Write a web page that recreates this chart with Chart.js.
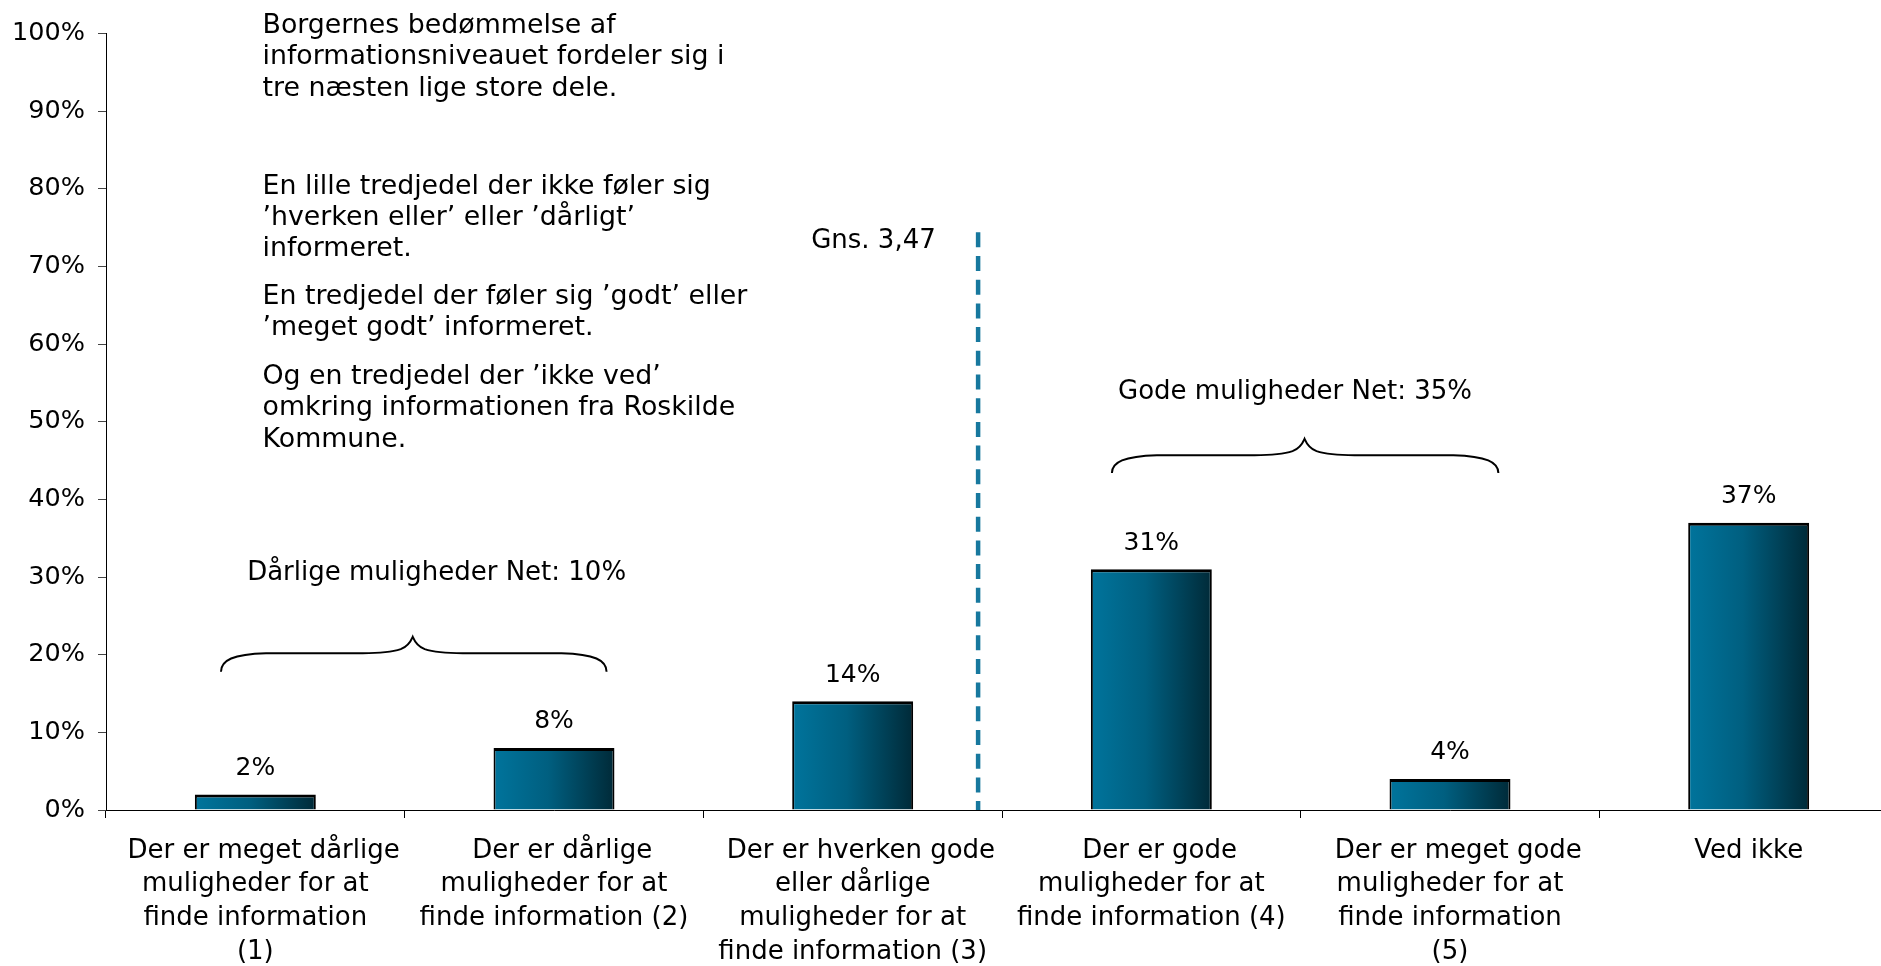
<!DOCTYPE html>
<html>
<head>
<meta charset="utf-8">
<script src="https://cdn.jsdelivr.net/npm/chart.js@4/dist/chart.umd.min.js"></script>
<style>
  html, body { margin: 0; padding: 0; overflow: hidden; background: #ffffff; }
  #c { display: block; }
</style>
</head>
<body>
<canvas id="c" width="1898" height="966"></canvas>
<script>
// ---------- DATA ----------
const categories = [
  ["Der er meget dårlige", "muligheder for at", "finde information", "(1)"],
  ["Der er dårlige", "muligheder for at", "finde information (2)"],
  ["Der er hverken gode", "eller dårlige", "muligheder for at", "finde information (3)"],
  ["Der er gode", "muligheder for at", "finde information (4)"],
  ["Der er meget gode", "muligheder for at", "finde information", "(5)"],
  ["Ved ikke"]
];
const shares = [2, 8, 14, 31, 4, 37];
const valueLabels = ["2%", "8%", "14%", "31%", "4%", "37%"];
const averageLabel = "Gns. 3,47";
const netLabels = ["Dårlige muligheder Net: 10%", "Gode muligheder Net: 35%"];
const commentary = [
  ["Borgernes bedømmelse af", "informationsniveauet fordeler sig i", "tre næsten lige store dele."],
  ["En lille tredjedel der ikke føler sig", "\u2019hverken eller\u2019 eller \u2019dårligt\u2019", "informeret."],
  ["En tredjedel der føler sig \u2019godt\u2019 eller", "\u2019meget godt\u2019 informeret."],
  ["Og en tredjedel der \u2019ikke ved\u2019", "omkring informationen fra Roskilde", "Kommune."]
];

// ---------- STYLE / LAYOUT ----------
const FONT = "'DejaVu Sans', Verdana, sans-serif";
const BAR_PCT = 0.405;

function barGradient(c) {
  const chart = c.chart;
  const xs = chart.scales && chart.scales.x;
  if (!xs || c.dataIndex === undefined) return '#005f7f';
  const cx = xs.getPixelForValue(c.dataIndex);
  const w = xs.width / categories.length * BAR_PCT;
  if (!isFinite(cx) || !isFinite(w) || w <= 0) return '#005f7f';
  const g = chart.ctx.createLinearGradient(cx - w / 2, 0, cx + w / 2, 0);
  g.addColorStop(0, '#00749c');
  g.addColorStop(0.45, '#005f80');
  g.addColorStop(1, '#002a38');
  return g;
}

// annotation placement (category-index / value units)
const avgLine = { pos: 2.42, top: 74.4, textX: 1.861, textY: 72.4 };
const netPlacement = [
  { L: -0.115, R: 1.176, T: 0.527, yE: 17.8, yB: 20.2, yT: 22.3, tx: 0.607, ty: 29.6 },
  { L: 2.868, R: 4.162, T: 3.513, yE: 43.4, yB: 45.7, yT: 47.8, tx: 3.481, ty: 52.9 }
];
const commentaryX = 262.5;
const commentaryBaselines = [[32.5, 64, 95.5], [194, 225, 256], [304, 335], [384, 415, 446.5]];

function drawBrace(ctx, L, R, T, yE, yB, yT) {
  ctx.beginPath();
  ctx.moveTo(L, yE);
  ctx.bezierCurveTo(L, yB + 7, L + 12, yB + 1, L + 45, yB);
  ctx.lineTo(T - 50, yB);
  ctx.bezierCurveTo(T - 30, yB, T - 18, yB - 2, T - 12, yB - 4);
  ctx.quadraticCurveTo(T - 4, yB - 7, T, yT);
  ctx.quadraticCurveTo(T + 4, yB - 7, T + 12, yB - 4);
  ctx.bezierCurveTo(T + 18, yB - 2, T + 30, yB, T + 50, yB);
  ctx.lineTo(R - 45, yB);
  ctx.bezierCurveTo(R - 12, yB + 1, R, yB + 7, R, yE);
  ctx.stroke();
}

const annotations = {
  id: 'annotations',
  afterDatasetsDraw(chart) {
    const { ctx, scales: { x, y } } = chart;
    ctx.save();
    ctx.fillStyle = '#000';

    // value labels
    ctx.font = `25px ${FONT}`;
    ctx.textAlign = 'center';
    ctx.textBaseline = 'alphabetic';
    chart.getDatasetMeta(0).data.forEach((bar, i) => {
      ctx.fillText(valueLabels[i], bar.x, bar.y - 19.5);
    });

    // average dashed line
    const ax = x.getPixelForValue(avgLine.pos);
    ctx.strokeStyle = '#17789e';
    ctx.lineWidth = 4.5;
    ctx.setLineDash([15, 8.7]);
    ctx.beginPath();
    ctx.moveTo(ax, y.getPixelForValue(avgLine.top));
    ctx.lineTo(ax, y.getPixelForValue(0));
    ctx.stroke();
    ctx.setLineDash([]);

    ctx.font = `26px ${FONT}`;
    ctx.textAlign = 'left';
    ctx.fillText(averageLabel, x.getPixelForValue(avgLine.textX), y.getPixelForValue(avgLine.textY));

    // net braces
    ctx.strokeStyle = '#000';
    ctx.lineWidth = 2;
    netPlacement.forEach((p, i) => {
      drawBrace(ctx,
        x.getPixelForValue(p.L), x.getPixelForValue(p.R), x.getPixelForValue(p.T),
        y.getPixelForValue(p.yE), y.getPixelForValue(p.yB), y.getPixelForValue(p.yT));
      ctx.textAlign = 'center';
      ctx.fillText(netLabels[i], x.getPixelForValue(p.tx), y.getPixelForValue(p.ty));
    });

    // commentary text
    ctx.font = `26.8px ${FONT}`;
    ctx.textAlign = 'left';
    commentary.forEach((para, pi) => {
      para.forEach((line, li) => {
        ctx.fillText(line, commentaryX, commentaryBaselines[pi][li]);
      });
    });
    ctx.restore();
  }
};

new Chart(document.getElementById('c'), {
  type: 'bar',
  data: {
    labels: categories,
    datasets: [{
      data: shares,
      backgroundColor: barGradient,
      borderColor: '#000',
      borderWidth: { top: 3, left: 2, right: 2, bottom: 0 },
      borderSkipped: false,
      barPercentage: BAR_PCT,
      categoryPercentage: 1
    }]
  },
  options: {
    responsive: false,
    devicePixelRatio: 1,
    animation: false,
    events: [],
    layout: { padding: { top: 33.5, left: 0, right: 0, bottom: 0 } },
    plugins: { legend: { display: false }, tooltip: { enabled: false }, title: { display: false } },
    scales: {
      x: {
        offset: true,
        grid: { display: true, offset: true, drawOnChartArea: false, drawTicks: true, tickLength: 8, color: '#000', lineWidth: 1 },
        border: { display: true, color: '#000', width: 1 },
        ticks: {
          font: { family: FONT, size: 26, lineHeight: 1.3 }, color: '#000', padding: 16,
          maxRotation: 0, minRotation: 0, autoSkip: false,
          callback: (value, index) => {
            const lines = categories[index];
            return lines.length > 1 ? ['\u00a0\u00a0' + lines[0], ...lines.slice(1)] : lines;
          }
        },
        afterFit(s) { s.height = 156; }
      },
      y: {
        min: 0, max: 100,
        grid: { drawOnChartArea: false, drawTicks: true, tickLength: 8, color: '#444', lineWidth: 1 },
        border: { display: true, color: '#000', width: 1 },
        ticks: { stepSize: 10, callback: v => v + '%', font: { family: FONT, size: 25.5 }, color: '#000', padding: 13 },
        afterFit(s) { s.width = 106; }
      }
    }
  },
  plugins: [annotations]
});
</script>
</body>
</html>
